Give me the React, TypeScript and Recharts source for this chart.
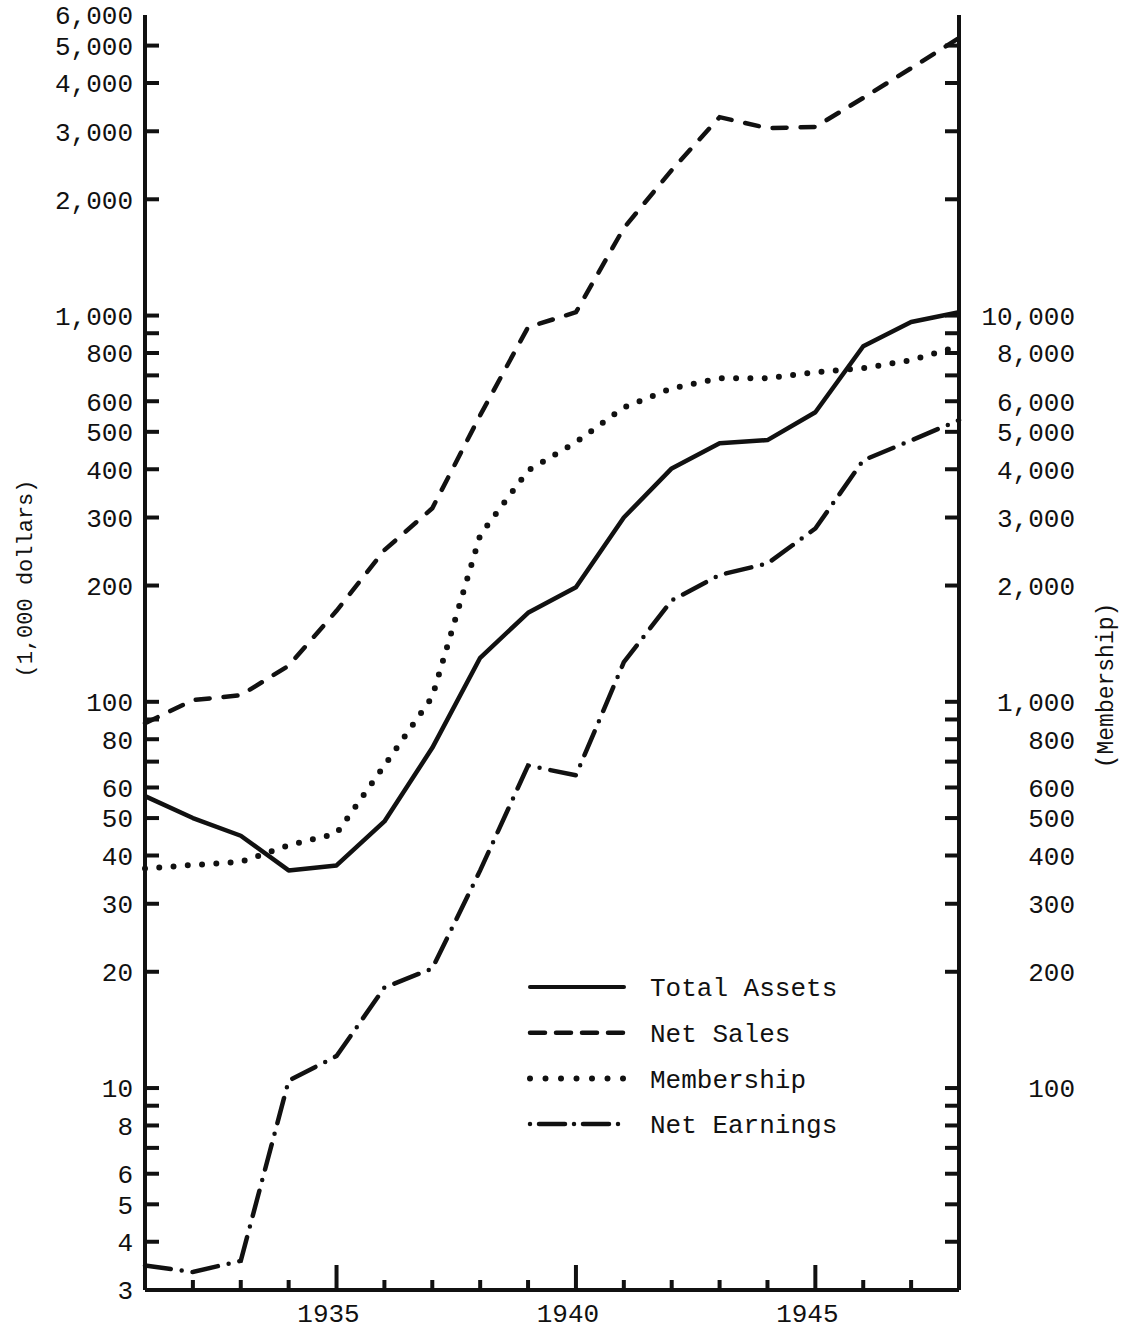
import { Legend, Line, LineChart, XAxis, YAxis } from "recharts";

// years on the x axis
const years = [
  1931, 1932, 1933, 1934, 1935, 1936, 1937, 1938, 1939, 1940, 1941, 1942,
  1943, 1944, 1945, 1946, 1947, 1948,
];

// 1,000 dollars (left scale)
const totalAssets = [
  57, 50, 45, 36.6, 37.7, 49, 76, 130, 170, 198, 300, 402, 467, 476, 562, 833,
  962, 1020,
];
const netSales = [
  88, 101, 104, 124, 172, 247, 317, 552, 933, 1020, 1685, 2380, 3264, 3056,
  3080, 3660, 4370, 5230,
];
const netEarnings = [
  3.47, 3.34, 3.57, 10.45, 12.1, 18.2, 20.4, 36.6, 68.4, 64.5, 126.6, 183, 213,
  228, 281, 422, 475, 536,
];

// members (right scale)
const membership = [
  370, 378, 385, 425, 456, 684, 1030, 2700, 3970, 4700, 5780, 6480, 6880, 6880,
  7130, 7310, 7660, 8330,
];

const majorYears = [1935, 1940, 1945];
const tickYears = [
  1932, 1933, 1934, 1935, 1936, 1937, 1938, 1939, 1940, 1941, 1942, 1943,
  1944, 1945, 1946, 1947,
];

const leftLabels = [
  3, 4, 5, 6, 8, 10, 20, 30, 40, 50, 60, 80, 100, 200, 300, 400, 500, 600, 800,
  1000, 2000, 3000, 4000, 5000, 6000,
];
const leftTicks = [
  3, 4, 5, 6, 7, 8, 9, 10, 20, 30, 40, 50, 60, 70, 80, 90, 100, 200, 300, 400,
  500, 600, 700, 800, 900, 1000, 2000, 3000, 4000, 5000, 6000,
];
const rightLabels = [
  100, 200, 300, 400, 500, 600, 800, 1000, 2000, 3000, 4000, 5000, 6000, 8000,
  10000,
];
const rightTicks = leftTicks.map((v) => v * 10);

const data = years.map((year, i) => ({
  year,
  totalAssets: totalAssets[i],
  netSales: netSales[i],
  membership: membership[i],
  netEarnings: netEarnings[i],
}));

const FONT = '"Liberation Mono", "DejaVu Sans Mono", monospace';
const INK = "#111";
const fmt = (v: number) => v.toLocaleString("en-US");

const frame = { stroke: INK, strokeWidth: 4 };

const legendItems = [
  { name: "Total Assets", dash: undefined, width: 4 },
  { name: "Net Sales", dash: "15 11", width: 4.5 },
  { name: "Membership", dash: "0 15.5", width: 6 },
  { name: "Net Earnings", dash: "0 9 26 9", width: 4.5 },
];

// tick marks point into the plot; labels sit outside
function LeftTick(props: any) {
  const { x, y, payload } = props;
  const v = payload.value;
  const edge = v === 3 || v === 6000;
  return (
    <g>
      {!edge && (
        <line x1={x} x2={x + 14} y1={y} y2={y} stroke={INK} strokeWidth={4} />
      )}
      {leftLabels.includes(v) && (
        <text
          x={x - 12}
          y={y}
          dy="0.36em"
          textAnchor="end"
          fontFamily={FONT}
          fontSize={26}
          fill={INK}
        >
          {fmt(v)}
        </text>
      )}
    </g>
  );
}

function RightTick(props: any) {
  const { x, y, payload } = props;
  const v = payload.value;
  const edge = v === 30 || v === 60000;
  return (
    <g>
      {!edge && (
        <line x1={x} x2={x - 14} y1={y} y2={y} stroke={INK} strokeWidth={4} />
      )}
      {rightLabels.includes(v) && (
        <text
          x={x + 116}
          y={y}
          dy="0.36em"
          textAnchor="end"
          fontFamily={FONT}
          fontSize={26}
          fill={INK}
        >
          {fmt(v)}
        </text>
      )}
    </g>
  );
}

function YearTick(props: any) {
  const { x, y, payload } = props;
  const major = majorYears.includes(payload.value);
  return (
    <g>
      <line
        x1={x}
        x2={x}
        y1={y}
        y2={y - (major ? 25 : 10)}
        stroke={INK}
        strokeWidth={4}
      />
      {major && (
        <text
          x={x - 8}
          y={y + 32}
          textAnchor="middle"
          fontFamily={FONT}
          fontSize={26}
          fill={INK}
        >
          {payload.value}
        </text>
      )}
    </g>
  );
}

function LeftTitle(props: any) {
  const { viewBox } = props;
  const cx = viewBox.x + 24;
  const cy = viewBox.y + viewBox.height / 2 - 74;
  return (
    <text
      transform={`translate(${cx}, ${cy}) rotate(-90)`}
      textAnchor="middle"
      dy="0.35em"
      fontFamily={FONT}
      fontSize={22}
      fill={INK}
    >
      (1,000 dollars)
    </text>
  );
}

function RightTitle(props: any) {
  const { viewBox } = props;
  const cx = viewBox.x + 146;
  const cy = viewBox.y + viewBox.height / 2 + 33;
  return (
    <text
      transform={`translate(${cx}, ${cy}) rotate(-90)`}
      textAnchor="middle"
      dy="0.35em"
      fontFamily={FONT}
      fontSize={23}
      fill={INK}
    >
      (Membership)
    </text>
  );
}

function LegendBox() {
  return (
    <svg width={340} height={190}>
      {legendItems.map((item, i) => {
        const y = 27 + i * 45.7;
        return (
          <g key={item.name}>
            <line
              x1={10}
              x2={104}
              y1={y}
              y2={y}
              stroke={INK}
              strokeWidth={item.width}
              strokeDasharray={item.dash}
              strokeLinecap="round"
            />
            <text
              x={130}
              y={y}
              dy="0.35em"
              fontFamily={FONT}
              fontSize={26}
              fill={INK}
            >
              {item.name}
            </text>
          </g>
        );
      })}
    </svg>
  );
}

export default function App() {
  return (
    <div style={{ position: "absolute", left: 0, top: 0, background: "#fff" }}>
      <LineChart
        width={1123}
        height={1333}
        data={data}
        margin={{ top: 15, right: 0, bottom: 0, left: 0 }}
      >
        <XAxis
          xAxisId="x"
          dataKey="year"
          type="number"
          domain={[1931, 1948]}
          ticks={tickYears}
          interval={0}
          height={43}
          axisLine={frame}
          tickLine={false}
          tickSize={0}
          tickMargin={0}
          tick={YearTick}
        />
        <XAxis
          xAxisId="top"
          type="number"
          orientation="top"
          domain={[1931, 1948]}
          height={0}
          axisLine={frame}
          tick={false}
          tickLine={false}
        />
        <YAxis
          yAxisId="left"
          scale="log"
          domain={[3, 6000]}
          allowDataOverflow
          ticks={leftTicks}
          interval={0}
          width={145}
          axisLine={frame}
          tickLine={false}
          tickSize={0}
          tickMargin={0}
          tick={LeftTick}
          label={LeftTitle}
        />
        <YAxis
          yAxisId="right"
          orientation="right"
          scale="log"
          domain={[30, 60000]}
          allowDataOverflow
          ticks={rightTicks}
          interval={0}
          width={164}
          axisLine={frame}
          tickLine={false}
          tickSize={0}
          tickMargin={0}
          tick={RightTick}
          label={RightTitle}
        />
        <Legend
          verticalAlign="middle"
          align="center"
          layout="horizontal"
          wrapperStyle={{ left: 520, top: 960, width: 340, height: 190 }}
          content={LegendBox}
        />
        <Line
          xAxisId="x"
          yAxisId="left"
          dataKey="totalAssets"
          name="Total Assets"
          type="linear"
          stroke={INK}
          strokeWidth={4.5}
          strokeLinejoin="round"
          dot={false}
          isAnimationActive={false}
        />
        <Line
          xAxisId="x"
          yAxisId="left"
          dataKey="netSales"
          name="Net Sales"
          type="linear"
          stroke={INK}
          strokeWidth={4.5}
          strokeDasharray="14 14"
          strokeLinecap="round"
          dot={false}
          isAnimationActive={false}
        />
        <Line
          xAxisId="x"
          yAxisId="right"
          dataKey="membership"
          name="Membership"
          type="linear"
          stroke={INK}
          strokeWidth={6}
          strokeDasharray="0 14.3"
          strokeLinecap="round"
          dot={false}
          isAnimationActive={false}
        />
        <Line
          xAxisId="x"
          yAxisId="left"
          dataKey="netEarnings"
          name="Net Earnings"
          type="linear"
          stroke={INK}
          strokeWidth={4.5}
          strokeDasharray="26 11 0 11"
          strokeLinecap="round"
          dot={false}
          isAnimationActive={false}
        />
      </LineChart>
    </div>
  );
}
